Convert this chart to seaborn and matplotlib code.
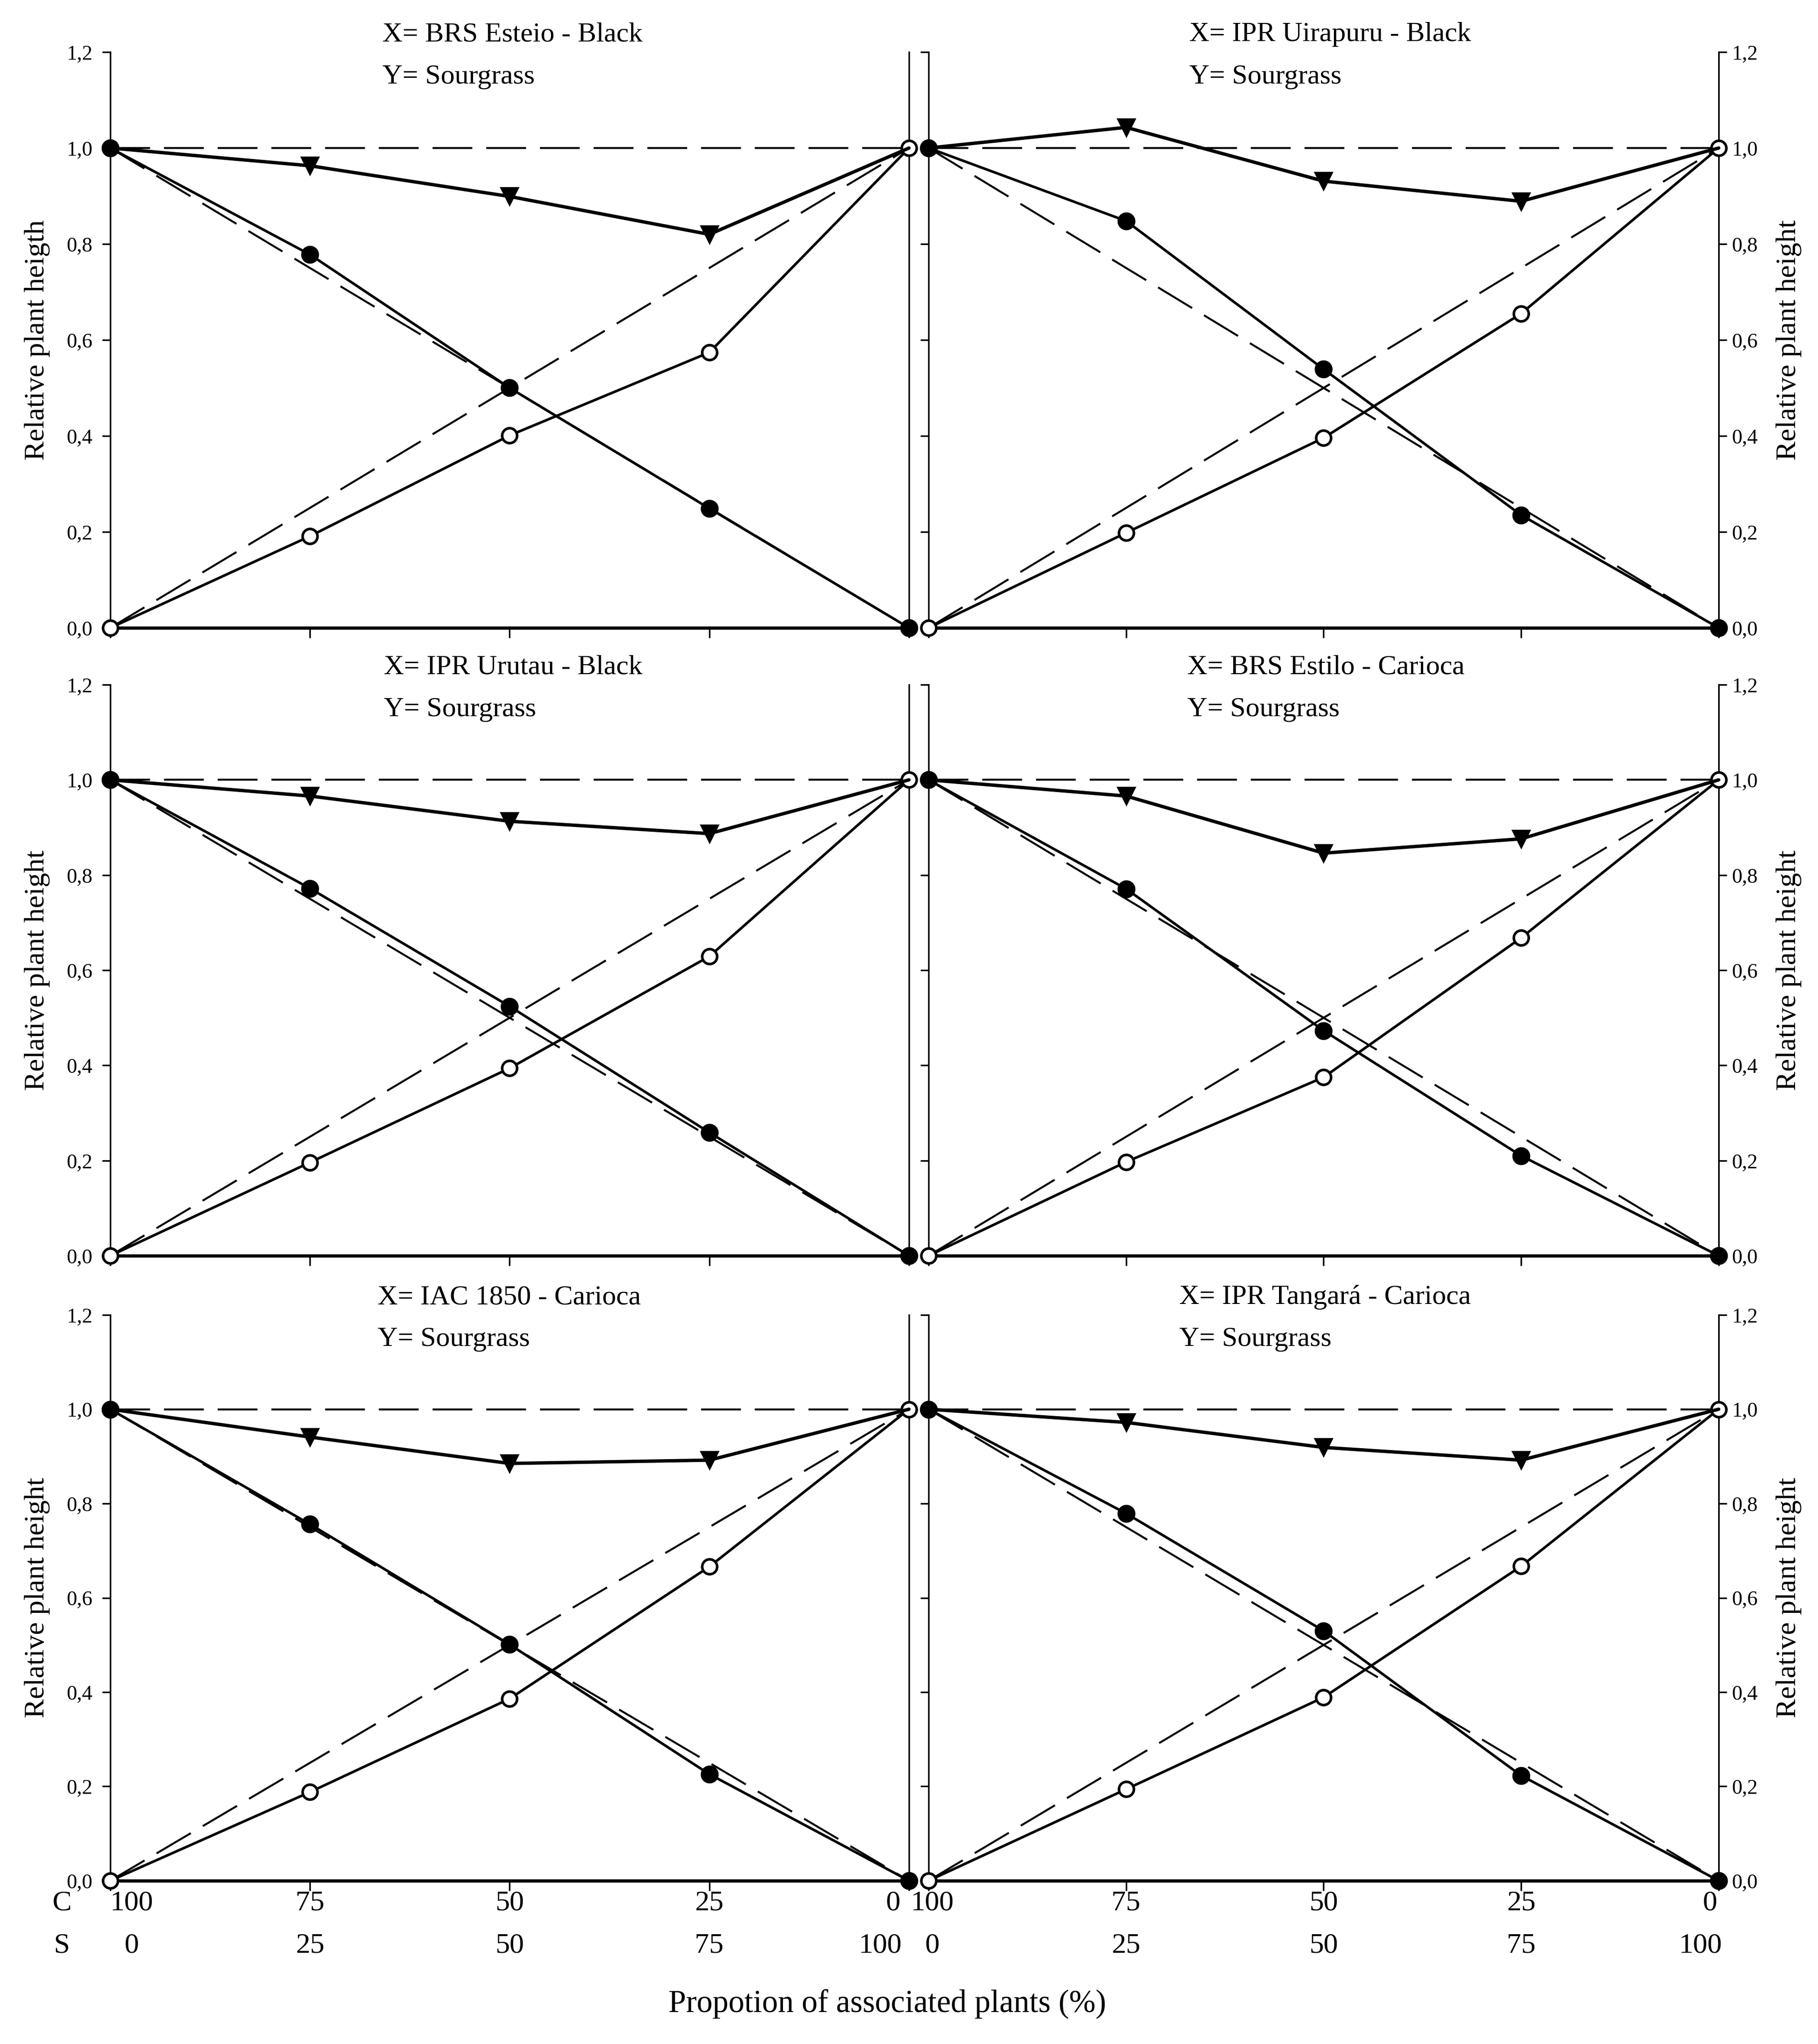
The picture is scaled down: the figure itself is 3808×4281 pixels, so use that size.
import seaborn as sns
import matplotlib.pyplot as plt
from matplotlib.transforms import blended_transform_factory

# replacement series: proportion of sourgrass (S) and of the bean crop (C), %
s_prop = [0, 25, 50, 75, 100]
c_labels = ["100", "75", "50", "25", "0"]
s_labels = ["0", "25", "50", "75", "100"]

# expected lines (no interference)
expected_crop = [1.0, 0.75, 0.5, 0.25, 0.0]
expected_weed = [0.0, 0.25, 0.5, 0.75, 1.0]
expected_total = [1.0, 1.0, 1.0, 1.0, 1.0]

# relative plant height
esteio_crop = [1.0, 0.778, 0.500, 0.249, 0.0]
esteio_weed = [0.0, 0.191, 0.401, 0.574, 1.0]
esteio_total = [1.0, 0.963, 0.899, 0.820, 1.0]

uirapuru_crop = [1.0, 0.848, 0.539, 0.235, 0.0]
uirapuru_weed = [0.0, 0.198, 0.396, 0.655, 1.0]
uirapuru_total = [1.0, 1.043, 0.931, 0.889, 1.0]

urutau_crop = [1.0, 0.772, 0.524, 0.259, 0.0]
urutau_weed = [0.0, 0.196, 0.394, 0.629, 1.0]
urutau_total = [1.0, 0.966, 0.913, 0.887, 1.0]

estilo_crop = [1.0, 0.771, 0.473, 0.210, 0.0]
estilo_weed = [0.0, 0.197, 0.375, 0.668, 1.0]
estilo_total = [1.0, 0.966, 0.846, 0.876, 1.0]

iac_crop = [1.0, 0.756, 0.501, 0.226, 0.0]
iac_weed = [0.0, 0.188, 0.386, 0.666, 1.0]
iac_total = [1.0, 0.941, 0.885, 0.892, 1.0]

tangara_crop = [1.0, 0.779, 0.530, 0.223, 0.0]
tangara_weed = [0.0, 0.194, 0.389, 0.667, 1.0]
tangara_total = [1.0, 0.972, 0.919, 0.892, 1.0]

titles = ["X= BRS Esteio - Black", "X= IPR Uirapuru - Black",
          "X= IPR Urutau - Black", "X= BRS Estilo - Carioca",
          "X= IAC 1850 - Carioca", "X= IPR Tangará - Carioca"]
ylabels = ["Relative plant heigth"] + ["Relative plant height"] * 5

y_ticks = [0.0, 0.2, 0.4, 0.6, 0.8, 1.0, 1.2]
y_tick_labels = ["0,0", "0,2", "0,4", "0,6", "0,8", "1,0", "1,2"]


def main():
    sns.set_theme(style="ticks")
    plt.rcParams["font.family"] = ["Liberation Serif", "DejaVu Serif"]
    plt.rcParams["axes.edgecolor"] = "black"
    plt.rcParams["axes.labelcolor"] = "black"
    plt.rcParams["text.color"] = "black"
    plt.rcParams["xtick.color"] = "black"
    plt.rcParams["ytick.color"] = "black"

    panels = [
        (esteio_crop, esteio_weed, esteio_total),
        (uirapuru_crop, uirapuru_weed, uirapuru_total),
        (urutau_crop, urutau_weed, urutau_total),
        (estilo_crop, estilo_weed, estilo_total),
        (iac_crop, iac_weed, iac_total),
        (tangara_crop, tangara_weed, tangara_total),
    ]

    fig = plt.figure(figsize=(3808 / 300, 4281 / 300), dpi=300)

    rows = [(0.69283, 0.28171), (0.38566, 0.27937), (0.07989, 0.27680)]
    cols = [(0.06066, 0.43934), (0.51076, 0.43461)]
    title_x = [0.341, 0.330, 0.3425, 0.3275, 0.335, 0.317]

    common = dict(color="black", errorbar=None, sort=False, clip_on=False)

    for i, (crop, weed, total) in enumerate(panels):
        r, c = divmod(i, 2)
        ax = fig.add_axes([cols[c][0], rows[r][0], cols[c][1], rows[r][1]])

        # expected (dashed) lines
        for ref in (expected_crop, expected_weed, expected_total):
            sns.lineplot(x=s_prop, y=ref, ax=ax, linewidth=1.0,
                         linestyle=(0, (20, 7)), zorder=3, **common)

        sns.lineplot(x=s_prop, y=weed, ax=ax, linewidth=1.3, marker="o",
                     markersize=7.5, markerfacecolor="white",
                     markeredgecolor="black", markeredgewidth=1.3, zorder=4,
                     **common)
        sns.lineplot(x=s_prop, y=crop, ax=ax, linewidth=1.3, marker="o",
                     markersize=8, markerfacecolor="black",
                     markeredgecolor="black", markeredgewidth=1.0, zorder=5,
                     **common)
        sns.lineplot(x=s_prop, y=total, ax=ax, linewidth=1.7, marker="v",
                     markersize=8.5, markevery=[1, 2, 3],
                     markerfacecolor="black", markeredgecolor="black",
                     markeredgewidth=0.8, zorder=5, **common)

        ax.set_xlim(0, 100)
        ax.set_ylim(0, 1.2)
        ax.set_xticks(s_prop)
        ax.set_yticks(y_ticks)
        ax.set_yticklabels(y_tick_labels)
        ax.set_xlabel("")

        ax.spines["top"].set_visible(False)
        for side in ("left", "right"):
            ax.spines[side].set_linewidth(0.8)
        ax.spines["bottom"].set_linewidth(1.6)

        ax.tick_params(axis="x", direction="out", length=5, width=0.8,
                       labelbottom=False)
        if c == 0:
            ax.tick_params(axis="y", left=True, right=False, labelleft=True,
                           labelright=False, direction="out", length=4,
                           width=0.8, pad=5, labelsize=10.5)
            ax.set_ylabel(ylabels[i], fontsize=14.5)
            ax.yaxis.set_label_coords(-0.0753, 0.5)
        else:
            ax.tick_params(axis="y", left=True, right=True, labelleft=False,
                           labelright=True, direction="out", length=4,
                           width=0.8, pad=2.5, labelsize=10.5)
            ax.yaxis.set_label_position("right")
            ax.set_ylabel(ylabels[i], fontsize=14.5)
            ax.yaxis.set_label_coords(1.0725, 0.5)

        ax.text(title_x[i], 1.019, titles[i], transform=ax.transAxes,
                fontsize=14, ha="left", va="baseline")
        ax.text(title_x[i], 0.945, "Y= Sourgrass", transform=ax.transAxes,
                fontsize=14, ha="left", va="baseline")

        # two-row proportion labels under the bottom panels
        if r == 2:
            trans = blended_transform_factory(ax.transData, fig.transFigure)
            if c == 0:
                c_x = [2.7, 25, 50, 75, 98.0]
                s_x = [2.7, 25, 50, 75, 96.4]
            else:
                c_x = [0.5, 25, 50, 75, 98.9]
                s_x = [0.5, 25, 50, 75, 97.7]
            for xv, lab in zip(c_x, c_labels):
                ax.text(xv, 0.0687, lab, transform=trans, fontsize=14.5,
                        ha="center", va="center")
            for xv, lab in zip(s_x, s_labels):
                ax.text(xv, 0.0479, lab, transform=trans, fontsize=14.5,
                        ha="center", va="center")

    fig.text(0.0341, 0.0687, "C", fontsize=14.5, ha="center", va="center")
    fig.text(0.0341, 0.0479, "S", fontsize=14.5, ha="center", va="center")
    fig.text(0.488, 0.0196, "Propotion of associated plants (%)", fontsize=16,
             ha="center", va="center")

    fig.savefig("out.png", dpi=300, facecolor="white")


if __name__ == "__main__":
    main()
